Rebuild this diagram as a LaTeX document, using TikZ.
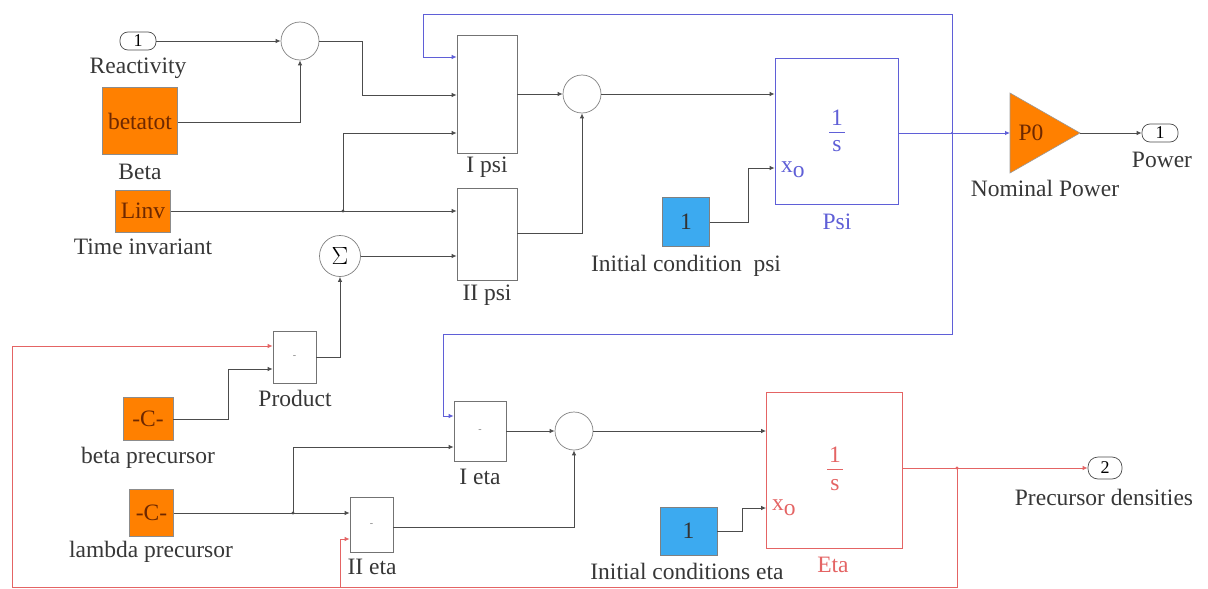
\documentclass[tikz,border=0pt]{standalone}
\usepackage{fontspec}
\setmainfont{Liberation Serif}
\usetikzlibrary{arrows.meta,calc}
\definecolor{sorange}{RGB}{255,128,0}
\definecolor{sblue}{RGB}{60,170,240}
\definecolor{lblue}{RGB}{95,95,215}
\definecolor{lred}{RGB}{228,100,100}
\definecolor{dtext}{RGB}{55,55,55}
\definecolor{otext}{RGB}{110,40,0}
\begin{document}
\begin{tikzpicture}[x=1pt,y=-1pt,
  font=\fontsize{23.5}{26}\selectfont,
  wire/.style={draw=black!70, line width=0.9pt},
  bwire/.style={draw=lblue, line width=0.9pt},
  rwire/.style={draw=lred, line width=0.9pt},
  arr/.style={-{Latex[length=5pt,width=4.5pt]}},
  blk/.style={draw=black!55, fill=white, line width=0.7pt, inner sep=0pt},
  sumc/.style={circle, draw=black!50, fill=white, line width=0.7pt, minimum size=38pt, inner sep=0pt},
  obox/.style={draw=black!45, fill=sorange, inner sep=0pt, text=otext, line width=0.6pt},
  cbox/.style={draw=black!50, fill=sblue, inner sep=0pt, text=black!80, line width=0.6pt},
  port/.style={draw=black!70, rounded corners=8pt, minimum width=36pt, minimum height=18pt, inner sep=0pt, fill=white, font=\fontsize{18}{20}\selectfont, line width=0.7pt},
  lab/.style={text=dtext, inner sep=0pt},
  pdot/.style={text=black!50, font=\fontsize{10}{10}\selectfont}
]
\useasboundingbox (0,0) rectangle (1208,589);
\fill[white] (0,0) rectangle (1208,589);

% ---------- top part ----------
\node[port] (in1) at (138,41) {1};
\node[lab] (lreact) at (138,68) {Reactivity};
\node[sumc] (s1) at (300,41) {};
\node[obox, minimum width=75pt, minimum height=67pt] (bt) at (140,121) {betatot};
\node[lab] (lbeta) at (140,172) {Beta};
\node[obox, minimum width=55pt, minimum height=42pt] (linv) at (143,211) {Linv};
\node[lab] (ltime) at (143,247) {Time invariant};

\node[blk, minimum width=60pt, minimum height=118pt] (ipsi) at (487,94) {};
\node[lab] (lipsi) at (487,167) {I psi};
\node[blk, minimum width=60pt, minimum height=92pt] (iipsi) at (487,234) {};
\node[lab] (liipsi) at (487,295) {II psi};
\node[sumc, minimum size=41pt] (sig) at (340,256) {$\Sigma$};
\node[sumc] (s2) at (582,94) {};

\node[draw=lblue, line width=0.8pt, fill=white, minimum width=123pt, minimum height=146pt, inner sep=0pt] (psi) at (836.5,131) {};
\node[text=lblue, inner sep=0pt] (psinum) at (837,118) {1};
\draw[lblue, line width=0.6pt] (829,132) -- (845,132);
\node[text=lblue, inner sep=0pt] (psiden) at (837,146) {s};
\node[text=lblue, inner sep=0pt, anchor=west] (psix) at (781,170) {x\raisebox{-5pt}{o}};
\node[text=lblue, inner sep=0pt] (lpsi) at (837,222) {Psi};
\node[cbox, minimum width=47pt, minimum height=49pt] (icpsi) at (686,222) {1};
\node[lab] (licpsi) at (686,266) {Initial condition\ \ psi};

\draw[fill=sorange, draw=black!40, line width=0.6pt] (1010,93) -- (1080,133) -- (1010,173) -- cycle;
\coordinate (p0in) at (1010,133);
\coordinate (p0out) at (1080,133);
\node[text=otext, inner sep=0pt] (p0) at (1031,133) {P0};
\node[lab] (lnom) at (1045,188) {Nominal Power};
\node[port] (out1) at (1160,133) {1};
\node[lab] (lpow) at (1162,160) {Power};

% ---------- bottom part ----------
\node[blk, minimum width=43pt, minimum height=52pt] (prod) at (294.5,357) {};
\node[pdot] at (prod) {-};
\node[lab] (lprod) at (295,398) {Product};
\node[obox, minimum width=50pt, minimum height=43pt] (bprec) at (148,419) {-C-};
\node[lab] (lbprec) at (148,458) {beta precursor};
\node[obox, minimum width=44pt, minimum height=47pt] (lprec) at (151.5,513) {-C-};
\node[lab] (llprec) at (151,552) {lambda precursor};

\node[blk, minimum width=52pt, minimum height=60pt] (ieta) at (480,431) {};
\node[pdot] at (ieta) {-};
\node[lab] (lieta) at (480,477) {I eta};
\node[blk, minimum width=43pt, minimum height=55pt] (iieta) at (371.5,525) {};
\node[pdot] at (iieta) {-};
\node[lab] (liieta) at (372,567) {II eta};
\node[sumc] (s3) at (574,431) {};

\node[draw=lred, line width=0.8pt, fill=white, minimum width=136pt, minimum height=156pt, inner sep=0pt] (eta) at (834.5,470) {};
\node[text=lred, inner sep=0pt] (etanum) at (835,455) {1};
\draw[lred, line width=0.6pt] (827,469) -- (843,469);
\node[text=lred, inner sep=0pt] (etaden) at (835,485) {s};
\node[text=lred, inner sep=0pt, anchor=west] (etax) at (772,508) {x\raisebox{-5pt}{o}};
\node[text=lred, inner sep=0pt] (leta) at (833,565) {Eta};
\node[cbox, minimum width=57pt, minimum height=48pt] (iceta) at (688.5,531) {1};
\node[lab] (liceta) at (687,571) {Initial conditions eta};

\node[port, minimum width=34pt, minimum height=22pt, rounded corners=10pt] (out2) at (1105,468) {2};
\node[lab] (lout2) at (1104,497) {Precursor densities};

% ---------- junction coordinates ----------
\coordinate (jb) at (952,133);
\coordinate (jr) at (957,468);
\coordinate (jl) at (343,211);
\coordinate (jlam) at (293,513);

% ---------- black wires ----------
\draw[wire, arr] (in1.east) -- (s1.west);
\draw[wire, arr] (bt.east |- 0,122) -| (s1.south);
\draw[wire, arr] (s1.east) -- (362,41) -- (362,95) -- (ipsi.west |- 0,95);
\draw[wire, arr] (linv.east |- 0,211) -- (iipsi.west |- 0,211);
\draw[wire, arr] (jl) -- (343,133) -- (ipsi.west |- 0,133);
\draw[wire, arr] (sig.east) -- (iipsi.west |- sig.east);
\draw[wire, arr] (ipsi.east |- s2.west) -- (s2.west);
\draw[wire, arr] (iipsi.east |- 0,233) -| (s2.south);
\draw[wire, arr] (s2.east) -- (psi.west |- s2.east);
\draw[wire, arr] (icpsi.east) -- (748,222) -- (748,168) -- (psi.west |- 0,168);
\draw[wire, arr] (p0out) -- (out1.west);

\draw[wire, arr] (prod.east) -- (340,357) -- (sig.south);
\draw[wire, arr] (bprec.east) -- (228,419) -- (228,369) -- (prod.west |- 0,369);
\draw[wire, arr] (lprec.east |- jlam) -- (iieta.west |- 0,513);
\draw[wire, arr] (jlam) -- (293,447) -- (ieta.west |- 0,447);
\draw[wire, arr] (ieta.east |- s3.west) -- (s3.west);
\draw[wire, arr] (iieta.east |- 0,527) -| (s3.south);
\draw[wire, arr] (s3.east) -- (eta.west |- s3.east);
\draw[wire, arr] (iceta.east) -- (742,531) -- (742,508) -- (eta.west |- 0,508);

% ---------- blue wires ----------
\draw[bwire, arr] (psi.east |- jb) -- (p0in);
\draw[bwire, arr] (jb) -- (952,14) -- (423,14) -- (423,57) -- (ipsi.west |- 0,57);
\draw[bwire, arr] (jb) -- (952,334) -- (443,334) -- (443,416) -- (ieta.west |- 0,416);

% ---------- red wires ----------
\draw[rwire, arr] (eta.east |- jr) -- (out2.west);
\draw[rwire, arr] (jr) -- (957,587) -- (12,587) -- (12,346) -- (prod.west |- 0,346);
\draw[rwire, arr] (340,587) -- (340,539) -- (iieta.west |- 0,539);

% ---------- junction dots ----------
\fill[black!70] (jl) circle (1.6pt);
\fill[black!70] (jlam) circle (1.6pt);
\fill[lred] (jr) circle (1.6pt);
\fill[lblue] (jb) circle (1.2pt);
\end{tikzpicture}
\end{document}
